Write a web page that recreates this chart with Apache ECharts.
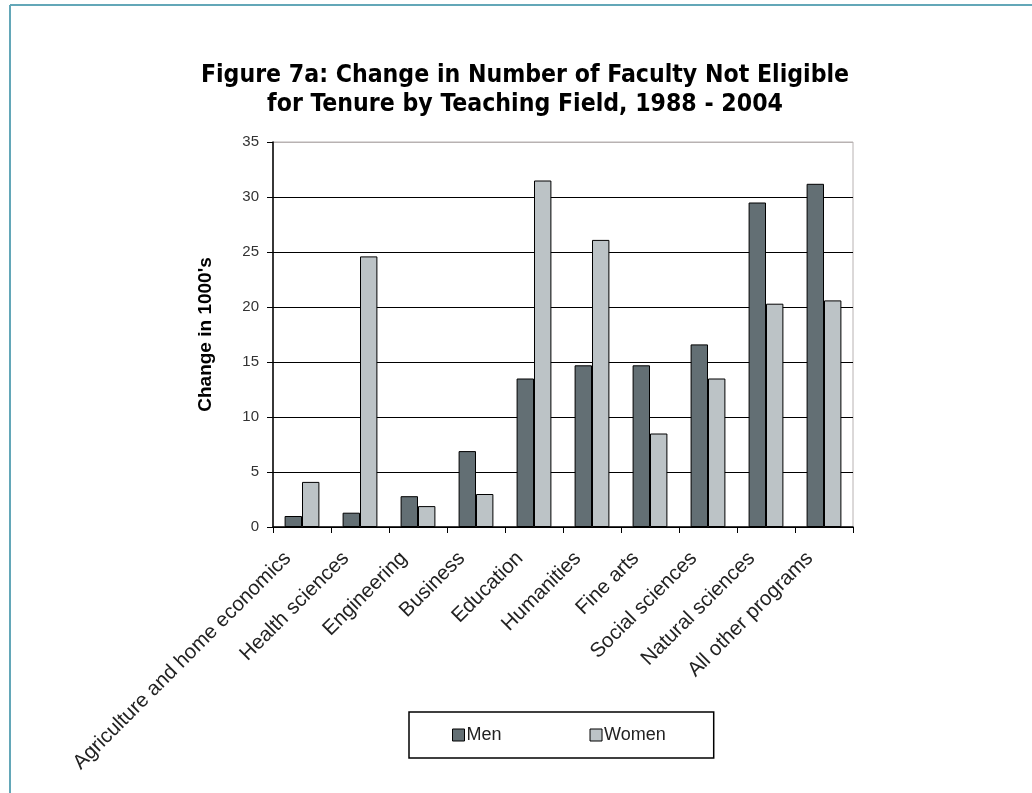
<!DOCTYPE html>
<html>
<head>
<meta charset="utf-8">
<script src="https://cdn.jsdelivr.net/npm/echarts@6/dist/echarts.min.js"></script>
<style>
  body { margin: 0; background: #fff; }
  #main { width: 1032px; height: 793px; }
</style>
</head>
<body>
<div id="main"></div>
<script>
// teaching fields
var fields = [
  "Agriculture and home economics", "Health sciences", "Engineering", "Business",
  "Education", "Humanities", "Fine arts", "Social sciences",
  "Natural sciences", "All other programs"
];
// change in 1000's
var men = [1.0, 1.3, 2.8, 6.9, 13.5, 14.7, 14.7, 16.6, 29.5, 31.2];
var women = [4.1, 24.6, 1.9, 3.0, 31.5, 26.1, 8.5, 13.5, 20.3, 20.6];

var myChart = echarts.init(document.getElementById("main"));

var option = {
  animation: false,
  backgroundColor: "#fff",
  title: {
    text: "Figure 7a: Change in Number of Faculty Not Eligible\nfor Tenure by Teaching Field, 1988 - 2004",
    left: 520,
    top: 56,
    textAlign: "center",
    textStyle: {
      fontFamily: "Liberation Sans Narrow, DejaVu Sans Condensed, Arial, sans-serif",
      fontWeight: "bold",
      fontSize: 24.6,
      lineHeight: 29,
      color: "#000"
    }
  },
  legend: {
    data: ["Men", "Women"],
    left: 409,
    top: 712,
    padding: [14, 48, 14, 43],
    itemGap: 88,
    itemWidth: 12,
    itemHeight: 12,
    itemStyle: { borderColor: "#000", borderWidth: 1 },
    icon: "rect",
    borderColor: "#000",
    borderWidth: 1.5,
    textStyle: {
      fontFamily: "Liberation Sans, Arial, sans-serif",
      fontSize: 18,
      color: "#222",
      padding: [0, 0, 0, -3]
    }
  },
  grid: {
    left: 273,
    right: 179,
    top: 142,
    bottom: 266,
    show: true,
    borderColor: "#b8b2b2",
    borderWidth: 1
  },
  xAxis: {
    type: "category",
    data: fields,
    axisLine: { lineStyle: { color: "#000", width: 1.5 } },
    axisTick: { show: true, length: 6, lineStyle: { color: "#000" } },
    axisLabel: {
      interval: 0,
      rotate: 45,
      margin: 14,
      padding: [0, 20, 0, 0],
      fontFamily: "Liberation Sans, Arial, sans-serif",
      fontSize: 20.5,
      color: "#222"
    }
  },
  yAxis: {
    type: "value",
    min: 0,
    max: 35,
    interval: 5,
    name: "Change in 1000's",
    nameLocation: "middle",
    nameRotate: 90,
    nameGap: 58,
    nameTextStyle: {
      fontFamily: "Liberation Sans, Arial, sans-serif",
      fontWeight: "bold",
      fontSize: 19,
      color: "#000"
    },
    axisLine: { show: true, lineStyle: { color: "#000", width: 1.5 } },
    axisTick: { show: true, length: 6, lineStyle: { color: "#000" } },
    axisLabel: {
      margin: 14,
      fontFamily: "Liberation Sans, Arial, sans-serif",
      fontSize: 15,
      color: "#333"
    },
    splitLine: {
      lineStyle: {
        color: ["#000", "#000", "#000", "#000", "#000", "#000", "#000", "#b8b2b2"],
        width: 1.2
      }
    }
  },
  series: [
    {
      name: "Men",
      type: "bar",
      data: men,
      barGap: "0%",
      barCategoryGap: "40%",
      itemStyle: { color: "#636f74", borderColor: "#000", borderWidth: 1 }
    },
    {
      name: "Women",
      type: "bar",
      data: women,
      itemStyle: { color: "#bcc3c6", borderColor: "#000", borderWidth: 1 }
    }
  ],
  graphic: [
    {
      type: "line",
      shape: { x1: 10, y1: 5, x2: 1032, y2: 5 },
      style: { stroke: "#63a7b8", lineWidth: 2 }
    },
    {
      type: "line",
      shape: { x1: 10, y1: 5, x2: 10, y2: 793 },
      style: { stroke: "#63a7b8", lineWidth: 2 }
    }
  ]
};

myChart.setOption(option);
</script>
</body>
</html>
